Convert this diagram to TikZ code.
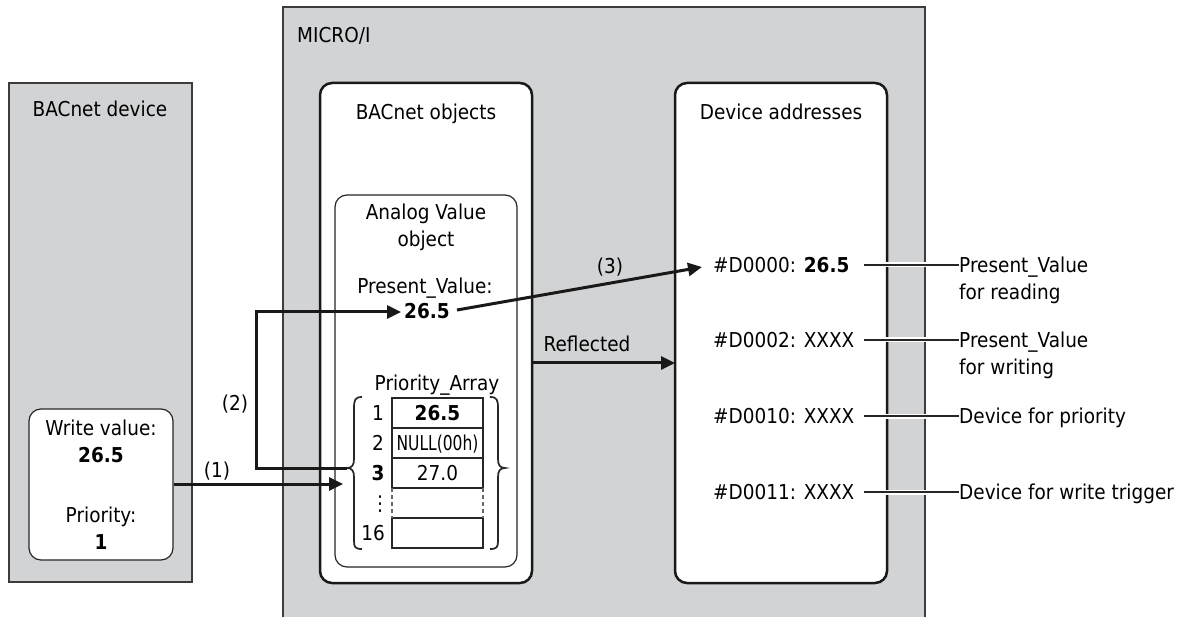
\documentclass[tikz,border=0pt]{standalone}
\usepackage{fontspec}
\setmainfont{DejaVu Sans}[FakeStretch=0.9]
\usepackage{graphicx}
\usetikzlibrary{arrows.meta}
\definecolor{panel}{HTML}{D1D3D4}
\definecolor{edge}{HTML}{3C3C3C}
\tikzset{
  txt/.style={inner sep=0pt, text height=14.9pt, text depth=0pt, font=\fontsize{20.5}{25}\selectfont},
  graybox/.style={fill=panel, draw=edge, line width=1.3pt, inner sep=0pt},
  bigbox/.style={fill=white, draw=black!90, line width=2.5pt, rounded corners=12pt, inner sep=0pt},
  thinbox/.style={fill=white, draw=black!85, line width=1.2pt, rounded corners=12pt, inner sep=0pt},
  cell/.style={draw=black!85, line width=1.2pt, minimum width=91pt, minimum height=30pt, inner sep=0pt, text height=14.9pt, text depth=0pt, font=\fontsize{20.5}{25}\selectfont},
  flow/.style={line width=3pt, draw=black!90, -{Triangle[length=14pt,width=13pt]}},
  halo/.style={preaction={draw=white, line width=5pt}, draw=black!85, line width=1.2pt},
  brace/.style={draw=black!85, line width=1.7pt}
}
\begin{document}
\begin{tikzpicture}[x=1pt,y=-1pt]
\useasboundingbox (0,0) rectangle (1186,617);
\clip (0,0) rectangle (1186,617);
\fill[white] (0,0) rectangle (1186,617);

% outer panels
\node[graybox, minimum width=183pt, minimum height=499pt] (dev) at (100.5,332.5) {};
\node[txt] (devlbl) at (100,109) {BACnet device};
\node[graybox, minimum width=642pt, minimum height=633pt] (micro) at (604,323.5) {};
\node[txt, anchor=west] (microlbl) at (297,35) {MICRO/I};

% write value box
\node[thinbox, minimum width=144pt, minimum height=151pt] (wv) at (101,484.5) {};
\node[txt] (wv1) at (101,428) {Write value:};
\node[txt] (wv2) at (101,455) {\bfseries 26.5};
\node[txt] (wv3) at (101,515) {Priority:};
\node[txt] (wv4) at (101,542) {\bfseries 1};

% BACnet objects
\node[bigbox, minimum width=212pt, minimum height=500pt] (obj) at (426,333) {};
\node[txt] (objlbl) at (426,112) {BACnet objects};
\node[thinbox, minimum width=182pt, minimum height=372pt] (av) at (426,381) {};
\node[txt] (av1) at (426,212) {Analog Value};
\node[txt] (av2) at (426,239) {object};
\node[txt] (pvl) at (425,286) {Present\_Value:};
\node[txt] (pv) at (427,311) {\bfseries 26.5};
\node[txt] (pal) at (437,383) {Priority\_Array};

% priority array cells
\node[cell] (c1) at (437.5,413) {\bfseries 26.5};
\node[cell] (c2) at (437.5,443) {\scalebox{0.84}[1]{NULL(00h)}};
\node[cell] (c3) at (437.5,473) {27.0};
\node[cell] (c16) at (437.5,533) {};
\draw[black!60, line width=1.2pt, dash pattern=on 4pt off 3pt] (392,488) -- (392,518) (483,488) -- (483,518);
\node[txt] (i1) at (378,413) {1};
\node[txt] (i2) at (378,443) {2};
\node[txt] (i3) at (378,473) {\bfseries 3};
\node[txt] (idots) at (380,503) {⋮};
\node[txt] (i16) at (373,533) {16};

% braces
\coordinate (lbt) at (347,468);
\coordinate (rbt) at (505,468);
\draw[brace] (362,397) .. controls (355,397) and (354,400) .. (354,408) -- (354,459)
  .. controls (354,465) and (352,468) .. (lbt)
  .. controls (352,468) and (354,471) .. (354,477) -- (354,541)
  .. controls (354,547) and (355,549) .. (362,549);
\draw[brace] (490,397) .. controls (497,397) and (498,400) .. (498,408) -- (498,459)
  .. controls (498,465) and (500,468) .. (rbt)
  .. controls (500,468) and (498,471) .. (498,477) -- (498,541)
  .. controls (498,547) and (497,549) .. (490,549);

% device addresses
\node[bigbox, minimum width=212pt, minimum height=500pt] (dad) at (781,333) {};
\node[txt] (dadlbl) at (781,112) {Device addresses};
\node[txt, anchor=west] (d0) at (713,265) {\#D0000: \bfseries 26.5};
\node[txt, anchor=west] (d2) at (713,340) {\#D0002: XXXX};
\node[txt, anchor=west] (d10) at (713,416) {\#D0010: XXXX};
\node[txt, anchor=west] (d11) at (713,492) {\#D0011: XXXX};

% right-hand notes
\node[txt, anchor=west] (n0a) at (959,265) {Present\_Value};
\node[txt, anchor=west] (n0b) at (959,292) {for reading};
\node[txt, anchor=west] (n2a) at (959,340) {Present\_Value};
\node[txt, anchor=west] (n2b) at (959,367) {for writing};
\node[txt, anchor=west] (n10) at (959,416) {Device for priority};
\node[txt, anchor=west] (n11) at (959,492) {Device for write trigger};
\draw[halo] (864,265) -- (n0a.west);
\draw[halo] (864,340) -- (n2a.west);
\draw[halo] (864,416) -- (n10.west);
\draw[halo] (864,492) -- (n11.west);

% flows
\coordinate (in1) at (343,484);
\draw[flow] (wv.east |- in1) -- (in1);
\node[txt] (l1) at (217,470) {(1)};
\coordinate (c2a) at (256,468);
\coordinate (c2b) at (256,312);
\coordinate (c2c) at (401,312);
\draw[flow] (lbt) -- (c2a) -- (c2b) -- (c2c);
\node[txt] (l2) at (235,403) {(2)};
\coordinate (s3) at (457,310);
\coordinate (e3) at (702,267);
\draw[flow] (s3) -- (e3);
\node[txt] (l3) at (610,266) {(3)};
\coordinate (rf) at (675,363);
\draw[flow] (obj.east |- rf) -- (rf);
\node[txt] (lrf) at (587,344) {Reflected};
\end{tikzpicture}
\end{document}
